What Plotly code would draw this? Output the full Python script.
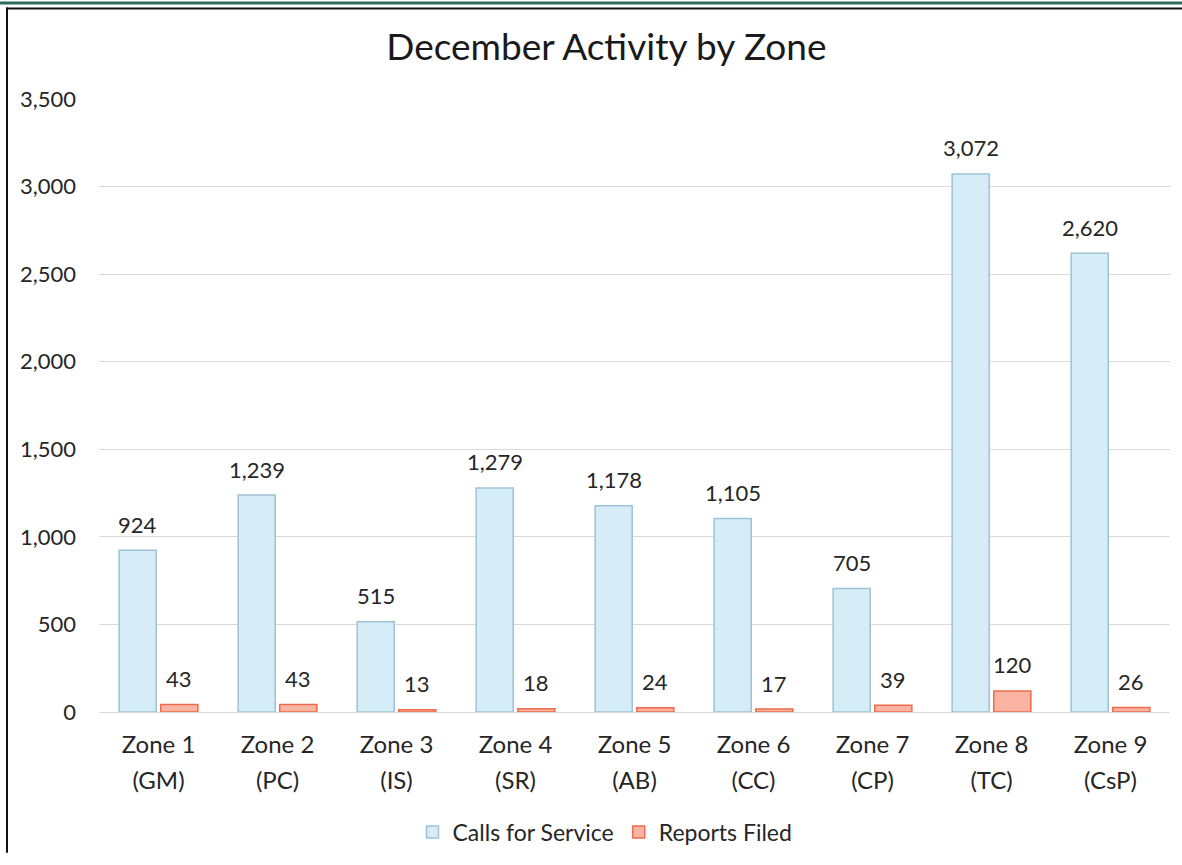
import plotly.graph_objects as go

zones = ["Zone 1", "Zone 2", "Zone 3", "Zone 4", "Zone 5", "Zone 6", "Zone 7", "Zone 8", "Zone 9"]
codes = ["(GM)", "(PC)", "(IS)", "(SR)", "(AB)", "(CC)", "(CP)", "(TC)", "(CsP)"]
calls = [924, 1239, 515, 1279, 1178, 1105, 705, 3072, 2620]
reports = [43, 43, 13, 18, 24, 17, 39, 120, 26]
y_ticks = [0, 500, 1000, 1500, 2000, 2500, 3000, 3500]

W, H = 1182, 865
ML, MR, MT, MB = 99, 12, 99, 143
FONT = "Lato"
TXT = "#262626"
BARGAP = 0.30

fig = go.Figure()
fig.add_trace(go.Bar(
    name="Calls for Service", x=zones, y=calls,
    marker=dict(color="#d6edf8", line=dict(color="#9cc3d5", width=1.5)),
    hovertemplate="%{x}: %{y:,}<extra></extra>",
))
fig.add_trace(go.Bar(
    name="Reports Filed", x=zones, y=reports,
    marker=dict(color="#fbb3a2", line=dict(color="#ee6b4b", width=1.5)),
    hovertemplate="%{x}: %{y:,}<extra></extra>",
))
# invisible helper trace that carries the second line of category labels
fig.add_trace(go.Scatter(
    x=zones, y=[0] * len(zones), xaxis="x2", mode="markers",
    marker=dict(opacity=0), showlegend=False, hoverinfo="skip",
))

def px_x(p):
    return (p - ML) / (W - ML - MR)

def px_y(p):
    return (H - MB - p) / (H - MT - MB)

# value labels placed above each bar (bar centre offset from the group layout)
half = (1 - BARGAP) / 4
annotations = []
for i, (c, r) in enumerate(zip(calls, reports)):
    for off, v in ((-half, c), (half, r)):
        annotations.append(dict(
            x=i + off, y=v, xref="x", yref="y", text=f"{v:,}",
            showarrow=False, yanchor="middle", yshift=26,
            font=dict(family=FONT, size=22, color=TXT),
        ))

fig.update_layout(
    width=W, height=H,
    margin=dict(l=ML, r=MR, t=MT, b=MB),
    paper_bgcolor="white", plot_bgcolor="white",
    font=dict(family=FONT, color=TXT, size=22),
    title=dict(text="December Activity by Zone", x=0.513, xanchor="center",
               y=1 - 47 / H, yanchor="middle",
               font=dict(family=FONT, size=37, color="#1a1a1a")),
    barmode="group", bargap=BARGAP, bargroupgap=0.11,
    showlegend=True,
    legend=dict(orientation="h", x=px_x(605), xanchor="center",
                y=px_y(844), yanchor="middle",
                font=dict(family=FONT, size=23, color=TXT)),
    xaxis=dict(type="category", categoryorder="array", categoryarray=zones,
               showgrid=False, showline=True, linecolor="#d9d9d9", linewidth=1,
               ticks="", ticklabelstandoff=11,
               tickfont=dict(family=FONT, size=24, color=TXT)),
    xaxis2=dict(type="category", categoryorder="array", categoryarray=zones,
                overlaying="x", matches="x", anchor="y", side="bottom",
                tickmode="array", tickvals=zones, ticktext=codes,
                showgrid=False, showline=False, zeroline=False,
                ticks="", ticklabelstandoff=52,
                tickfont=dict(family=FONT, size=24, color=TXT)),
    yaxis=dict(range=[0, 3500], tickvals=y_ticks, tickformat=",",
               showgrid=True, gridcolor="#d9d9d9", gridwidth=1,
               zeroline=False, showline=False, ticks="", ticklabelstandoff=22,
               tickfont=dict(family=FONT, size=22, color=TXT)),
    annotations=annotations,
    shapes=[
        dict(type="rect", xref="paper", yref="paper",
             x0=px_x(0), x1=px_x(W), y0=px_y(3), y1=px_y(0),
             fillcolor="#2f6a62", line=dict(width=0), layer="above"),
        dict(type="line", xref="paper", yref="paper",
             x0=px_x(6), x1=px_x(W), y0=px_y(7), y1=px_y(7),
             line=dict(color="#111111", width=2)),
        dict(type="line", xref="paper", yref="paper",
             x0=px_x(7), x1=px_x(7), y0=px_y(6), y1=px_y(H),
             line=dict(color="#111111", width=2)),
    ],
)

fig.write_html("out.html", config={"displayModeBar": False},
               post_script="document.body.style.margin='0';")
